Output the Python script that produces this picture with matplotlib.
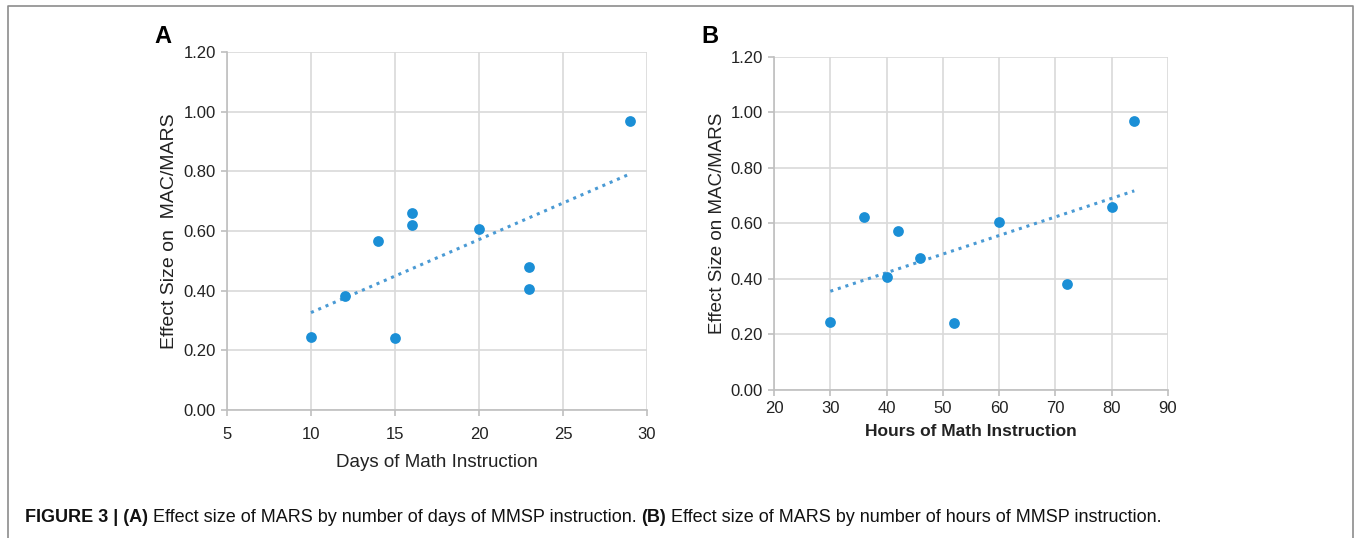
import matplotlib
matplotlib.use("Agg")
import matplotlib.pyplot as plt
import numpy as np
from matplotlib.lines import Line2D

plt.rcParams['font.family'] = ['Liberation Sans', 'DejaVu Sans']

# Panel A: days of instruction vs effect size
days = [10, 12, 14, 15, 16, 16, 20, 23, 23, 29]
effect_days = [0.246, 0.381, 0.567, 0.240, 0.659, 0.620, 0.608, 0.480, 0.406, 0.968]

# Panel B: hours of instruction vs effect size
hours = [30, 36, 40, 42, 46, 52, 60, 72, 80, 84]
effect_hours = [0.245, 0.623, 0.406, 0.572, 0.477, 0.240, 0.607, 0.381, 0.658, 0.970]

y_ticks = [0.0, 0.2, 0.4, 0.6, 0.8, 1.0, 1.2]
x_ticks_a = [5, 10, 15, 20, 25, 30]
x_ticks_b = [20, 30, 40, 50, 60, 70, 80, 90]

caption_bold = "FIGURE 3 | (A)"
caption_a = " Effect size of MARS by number of days of MMSP instruction. "
caption_bold_b = "(B)"
caption_b = " Effect size of MARS by number of hours of MMSP instruction."

dot_color = "#1b8fd6"
trend_color = "#4a9ad4"
grid_color = "#d9d9d9"
spine_color = "#bfbfbf"


def style_axes(ax, xticks, xlim, xpad):
    ax.set_xlim(*xlim)
    ax.set_ylim(0, 1.2)
    ax.set_xticks(xticks)
    ax.set_yticks(y_ticks)
    ax.set_yticklabels([f"{v:.2f}" for v in y_ticks])
    ax.grid(True, color=grid_color, linewidth=1.2)
    ax.set_axisbelow(True)
    for s in ["top", "right"]:
        ax.spines[s].set_visible(False)
    for s in ["left", "bottom"]:
        ax.spines[s].set_color(spine_color)
        ax.spines[s].set_linewidth(1.2)
    ax.tick_params(colors=spine_color, labelcolor="#222222", labelsize=12,
                   length=4, width=1.2, pad=4)
    ax.tick_params(axis="x", pad=xpad)


def scatter_with_trend(ax, x, y):
    ax.scatter(x, y, s=60, color=dot_color, zorder=3, linewidths=0)
    slope, intercept = np.polyfit(x, y, 1)
    xs = np.array([min(x), max(x)])
    ax.plot(xs, slope * xs + intercept, linestyle=(0, (1, 1.6)),
            color=trend_color, linewidth=2.2, zorder=2)


fig = plt.figure(figsize=(13.56, 5.38), dpi=100)

axA = fig.add_axes([0.1674, 0.2379, 0.3097, 0.6654])
scatter_with_trend(axA, days, effect_days)
style_axes(axA, x_ticks_a, (5, 30), 8)
axA.set_xlabel("Days of Math Instruction", fontsize=13.5, color="#222222", labelpad=9)
axA.set_ylabel("Effect Size on  MAC/MARS", fontsize=14, color="#222222", labelpad=4)

axB = fig.add_axes([0.5708, 0.2751, 0.2906, 0.619])
scatter_with_trend(axB, hours, effect_hours)
style_axes(axB, x_ticks_b, (20, 90), 4)
axB.set_xlabel("Hours of Math Instruction", fontsize=12.5, fontweight="bold",
               color="#222222", labelpad=6)
axB.set_ylabel("Effect Size on MAC/MARS", fontsize=13.5, color="#222222", labelpad=3)

fig.text(0.120, 0.932, "A", fontsize=17, fontweight="bold", ha="center", va="center")
fig.text(0.5236, 0.932, "B", fontsize=17, fontweight="bold", ha="center", va="center")

# frame round the figure (open at the bottom)
W, H = 1356, 538
fx = [8 / W, 8 / W, 1353 / W, 1353 / W]
fy = [0, 1 - 6 / H, 1 - 6 / H, 0]
fig.add_artist(Line2D(fx, fy, transform=fig.transFigure, color="#8c8c8c", linewidth=1.2))

# caption built from bold and regular pieces
fig.canvas.draw()
renderer = fig.canvas.get_renderer()
x = 25 / W
base = 1 - 522 / H
for txt, wt in [(caption_bold, "bold"), (caption_a, "normal"),
                (caption_bold_b, "bold"), (caption_b, "normal")]:
    t = fig.text(x, base, txt, fontsize=13, fontweight=wt, va="baseline", ha="left",
                 color="#111111")
    bb = t.get_window_extent(renderer=renderer)
    x = bb.x1 / W

fig.savefig("out.png", dpi=100)
